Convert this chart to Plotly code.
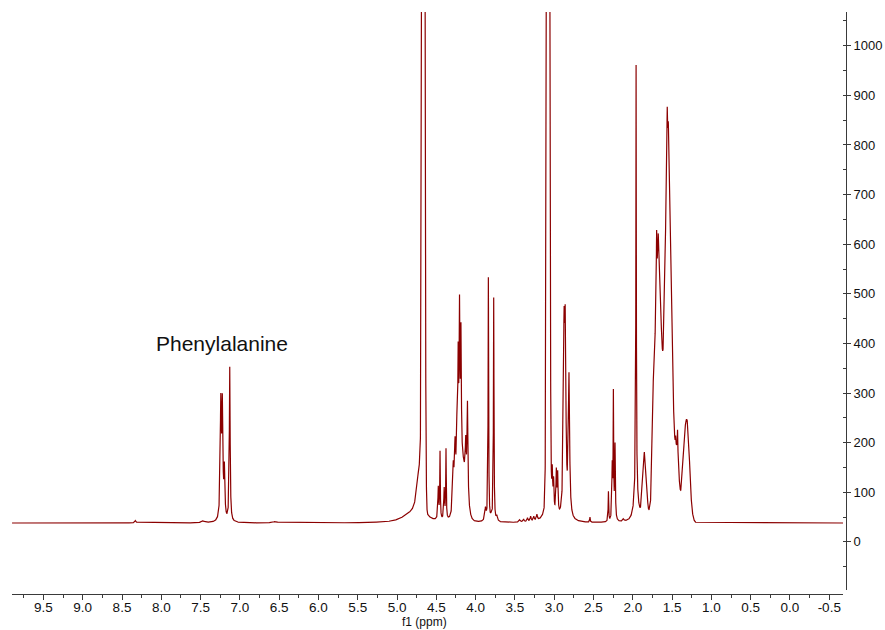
import numpy as np
import plotly.graph_objects as go

# ---------------- data ----------------
baseline_level = 38.0

# resonance list: chemical shift (ppm), height above baseline, half width (ppm), Lorentzian fraction
peak_ppm = [
    8.33, 7.47, 7.243, 7.223, 7.197, 7.129, 6.55,
    4.665, 4.715, 4.85,
    4.475, 4.453, 4.40, 4.377,
    4.285, 4.262, 4.238, 4.222, 4.205, 4.187, 4.17, 4.126, 4.104,
    3.875, 3.838, 3.80, 3.770, 3.73,
    3.44, 3.39, 3.34, 3.30, 3.26, 3.22,
    3.077, 3.075, 3.025, 3.008, 2.973, 2.956,
    2.875, 2.859, 2.812,
    2.545, 2.31, 2.262, 2.247, 2.226, 2.12,
    1.958, 1.96,
    1.870, 1.853, 1.838, 1.82,
    1.735, 1.675, 1.697, 1.676, 1.655,
    1.56, 1.562, 1.548, 1.51,
    1.437, 1.455, 1.43,
    1.322, 1.292,
]
peak_height = [
    5, 4, 228, 222, 95, 311, 3,
    3900, 110, 12,
    65, 135, 62, 140,
    90, 120, 120, 229, 312, 254, 110, 81, 193,
    25, 490, 8, 450, 10,
    5, 6, 8, 10, 9, 12,
    3900, 150, 75, 60, 85, 80,
    335, 335, 281,
    10, 60, 105, 250, 150, 5,
    840, 80,
    80, 85, 70, 35,
    120, 530, 120, 45, 30,
    675, 85, 45, 275,
    130, 20, 50,
    200, 30,
]
peak_hwhm = [
    0.01, 0.02, 0.008, 0.008, 0.007, 0.006, 0.03,
    0.0156, 0.04, 0.12,
    0.006, 0.004, 0.006, 0.004,
    0.01, 0.01, 0.008, 0.006, 0.006, 0.006, 0.055, 0.007, 0.007,
    0.01, 0.004, 0.01, 0.004, 0.01,
    0.01, 0.008, 0.008, 0.008, 0.008, 0.008,
    0.0156, 0.025, 0.006, 0.006, 0.006, 0.006,
    0.0095, 0.0095, 0.0095,
    0.004, 0.004, 0.005, 0.004, 0.005, 0.01,
    0.0035, 0.025,
    0.012, 0.010, 0.010, 0.012,
    0.015, 0.05, 0.004, 0.004, 0.005,
    0.0375, 0.004, 0.004, 0.035,
    0.03, 0.004, 0.004,
    0.045, 0.02,
]
peak_lorentz_fraction = [
    1, 1, 1, 1, 1, 1, 1,
    0, 1, 1,
    1, 1, 1, 1,
    1, 1, 1, 1, 1, 1, 0, 1, 1,
    1, 1, 1, 1, 1,
    1, 1, 1, 1, 1, 1,
    0, 1, 1, 1, 1, 1,
    1, 1, 1,
    1, 1, 1, 1, 1, 1,
    1, 1,
    1, 1, 1, 1,
    0, 0, 1, 1, 1,
    0, 1, 1, 0,
    0, 1, 1,
    0, 0,
]

label_text = ["Phenylalanine"]
label_ppm = [7.234]
label_value = [399]

axis_title = "f1 (ppm)"

x_range = [9.9, -0.675]
y_range = [-97, 1068]
x_tick_vals = [9.5, 9.0, 8.5, 8.0, 7.5, 7.0, 6.5, 6.0, 5.5, 5.0, 4.5, 4.0,
               3.5, 3.0, 2.5, 2.0, 1.5, 1.0, 0.5, 0.0, -0.5]
x_tick_text = ["9.5", "9.0", "8.5", "8.0", "7.5", "7.0", "6.5", "6.0", "5.5", "5.0",
               "4.5", "4.0", "3.5", "3.0", "2.5", "2.0", "1.5", "1.0", "0.5", "0.0", "-0.5"]
y_tick_vals = [0, 100, 200, 300, 400, 500, 600, 700, 800, 900, 1000]
y_tick_text = ["0", "100", "200", "300", "400", "500", "600", "700", "800", "900", "1000"]

# ---------------- spectrum from the resonance list ----------------
shift = np.arange(-0.675, 9.9, 0.0005)
intensity = np.full_like(shift, baseline_level)
for c, h, w, eta in zip(peak_ppm, peak_height, peak_hwhm, peak_lorentz_fraction):
    d2 = (shift - c) ** 2
    lor = w * w / (d2 + w * w)
    gau = np.exp(-np.log(2) * d2 / (w * w))
    intensity += h * (eta * lor + (1 - eta) * gau)

FONT = "Liberation Sans, Arial, Helvetica, sans-serif"
AX = "#3a3a3a"

fig = go.Figure()
fig.add_trace(go.Scatter(
    x=shift, y=intensity, mode="lines",
    line=dict(color="#8B0000", width=1.2),
    hoverinfo="skip", showlegend=False,
))

for t, xp, yv in zip(label_text, label_ppm, label_value):
    fig.add_annotation(x=xp, y=yv, xref="x", yref="y", text=t, showarrow=False,
                       font=dict(family=FONT, size=21, color="#111"))

# axis title, sitting just under the tick labels at the bottom edge
fig.add_annotation(x=0.495, y=-0.0619, xref="paper", yref="paper", text=axis_title,
                   showarrow=False, xanchor="center", yanchor="bottom", borderpad=0,
                   font=dict(family=FONT, size=12, color="#111"))

fig.update_layout(
    template="none",
    width=885, height=630,
    margin=dict(l=12, r=39, t=12, b=36, autoexpand=False),
    paper_bgcolor="white", plot_bgcolor="white",
    font=dict(family=FONT, color="#111"),
    xaxis=dict(
        automargin=False,
        range=x_range, domain=[0, 0.9964], anchor="free", position=0,
        showline=True, linecolor=AX, linewidth=1, mirror=False,
        ticks="outside", ticklen=5, tickcolor=AX, tickwidth=1,
        tickmode="array", tickvals=x_tick_vals, ticktext=x_tick_text,
        tickfont=dict(size=13.5, color="#111"), ticklabelstandoff=-4,
        minor=dict(ticks="outside", ticklen=3, tickcolor=AX, tickmode="linear",
                   tick0=0, dtick=0.25, showgrid=False),
        showgrid=False, zeroline=False,
    ),
    yaxis=dict(
        automargin=False,
        range=y_range, domain=[0.00687, 1], side="right", anchor="free", position=1,
        showline=True, linecolor=AX, linewidth=1, mirror=False,
        ticks="outside", ticklen=4, tickcolor=AX, tickwidth=1,
        tickmode="array", tickvals=y_tick_vals, ticktext=y_tick_text,
        tickfont=dict(size=13, color="#111"),
        minor=dict(ticks="inside", ticklen=3, tickcolor=AX, tickmode="linear",
                   tick0=0, dtick=50, showgrid=False),
        showgrid=False, zeroline=False,
    ),
)

fig.write_html("out.html")
